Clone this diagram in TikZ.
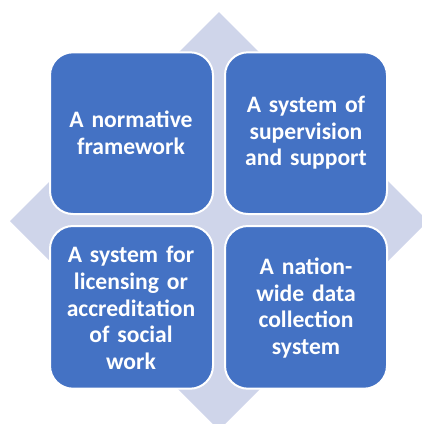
\documentclass[tikz,border=0pt]{standalone}
\usepackage{fontspec}
\setmainfont{Carlito}[WordSpace=0.75]
\begin{document}
\begin{tikzpicture}[x=1pt,y=-1pt,
  tile/.style={draw=white, line width=2pt, fill=tileblue, rounded corners=23pt},
  tiletext/.style={text=white, font=\fontsize{23.6}{26.6}\selectfont\bfseries, align=center, text width=156pt}]
  \definecolor{tileblue}{HTML}{4472C4}
  \definecolor{diamondfill}{HTML}{CFD5EA}
  \useasboundingbox (0,0) rectangle (422,424);
  % background diamond
  \fill[diamondfill] (219,12) -- (428,221) -- (219,430) -- (10,221) -- cycle;
  % four tiles
  \draw[tile] (50,52.3) rectangle (213,214);
  \draw[tile] (225,52.3) rectangle (387,214);
  \draw[tile] (50,226) rectangle (213,388.7);
  \draw[tile] (225,226) rectangle (387,388.7);
  % labels
  \node[tiletext] (tl) at (131,133) {A normative\\framework};
  \node[tiletext] (tr) at (306,133) {A system of\\supervision\\and support};
  \node[tiletext] (bl) at (131,308) {A system for\\licensing or\\accreditation\\of social\\work};
  \node[tiletext] (br) at (306,308) {A nation-\\wide data\\collection\\system};
\end{tikzpicture}
\end{document}
